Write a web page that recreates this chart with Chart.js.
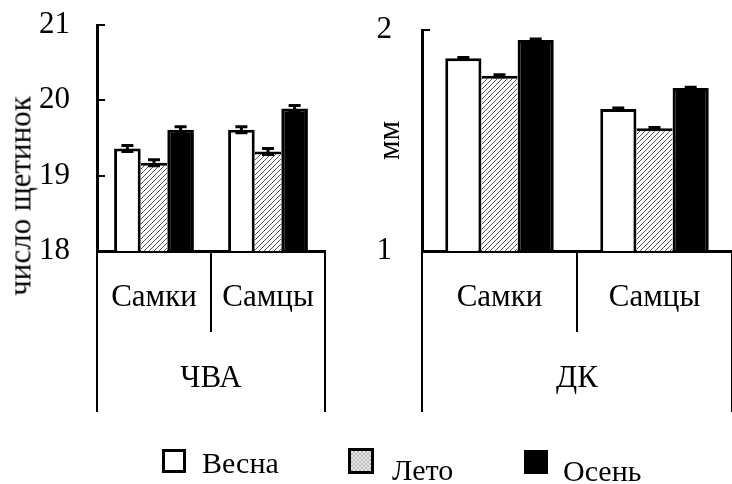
<!DOCTYPE html>
<html lang="ru">
<head>
<meta charset="utf-8">
<title>ЧВА и ДК</title>
<script src="https://cdn.jsdelivr.net/npm/chart.js@4.4.1/dist/chart.umd.min.js"></script>
<style>
  body { margin: 0; background: #fff; }
  #wrap { position: relative; width: 732px; height: 484px; overflow: hidden;
    font-family: "Liberation Serif", "Times New Roman", serif; color: #000; }
  canvas { position: absolute; top: 0; }
  #leftChart { left: 0; }
  #rightChart { left: 366px; }
  .y-title { position: absolute; font-size: 31px; line-height: 1.2; white-space: nowrap;
    transform: translate(-50%, -50%) rotate(-90deg); }
  .legend-box { position: absolute; box-sizing: border-box; border: 3px solid #000; }
  .legend-text { position: absolute; font-size: 30px; line-height: 1; white-space: nowrap; }
</style>
</head>
<body>
<div id="wrap">
  <canvas id="leftChart" width="366" height="484"></canvas>
  <canvas id="rightChart" width="366" height="484"></canvas>
  <div class="y-title" id="leftTitle" style="left:20px; top:196px;"></div>
  <div id="legend"></div>
</div>
<script>
// Categories and groups
const sexes = ["Самки", "Самцы"];
const seasons = ["Весна", "Лето", "Осень"];
const leftGroup = ["ЧВА"];
const rightGroup = ["ДК"];
const leftAxisTitle = "число щетинок";
const rightAxisTitle = "мм";

// ЧВА (left panel)
const chvaSpring = [19.36, 19.61];
const chvaSummer = [19.17, 19.32];
const chvaAutumn = [19.61, 19.89];
const chvaSpringErr = [0.04, 0.04];
const chvaSummerErr = [0.04, 0.04];
const chvaAutumnErr = [0.04, 0.04];
const chvaTicks = [18, 19, 20, 21];

// ДК (right panel)
const dkSpring = [1.872, 1.643];
const dkSummer = [1.793, 1.555];
const dkAutumn = [1.955, 1.737];
const dkSpringErr = [0.004, 0.004];
const dkSummerErr = [0.004, 0.004];
const dkAutumnErr = [0.004, 0.004];
const dkTicks = [1, 2];

Chart.defaults.font.family = "'Liberation Serif', 'Times New Roman', serif";
Chart.defaults.color = "#000";

// Hatch pattern for summer bars
function makeHatch() {
  const c = document.createElement("canvas");
  c.width = 5;
  c.height = 5;
  const g = c.getContext("2d");
  g.fillStyle = "#fff";
  g.fillRect(0, 0, 5, 5);
  g.strokeStyle = "#555";
  g.lineWidth = 1;
  g.beginPath();
  g.moveTo(0, 5);
  g.lineTo(5, 0);
  g.moveTo(-1, 1);
  g.lineTo(1, -1);
  g.moveTo(4, 6);
  g.lineTo(6, 4);
  g.stroke();
  return g.createPattern(c, "repeat");
}
const hatch = makeHatch();

// Error bars drawn from each dataset's errorBars array
const errorBarPlugin = {
  id: "errorBars",
  afterDatasetsDraw(chart) {
    const ctx = chart.ctx;
    const yScale = chart.scales.y;
    ctx.save();
    ctx.strokeStyle = "#000";
    ctx.lineWidth = 3;
    chart.data.datasets.forEach((ds, di) => {
      const meta = chart.getDatasetMeta(di);
      meta.data.forEach((bar, i) => {
        const v = ds.data[i];
        const e = ds.errorBars[i];
        const yTop = yScale.getPixelForValue(v + e);
        const yBot = yScale.getPixelForValue(v - e);
        const half = 6;
        ctx.beginPath();
        ctx.moveTo(bar.x, yTop);
        ctx.lineTo(bar.x, yBot);
        ctx.moveTo(bar.x - half, yTop);
        ctx.lineTo(bar.x + half, yTop);
        ctx.moveTo(bar.x - half, yBot);
        ctx.lineTo(bar.x + half, yBot);
        ctx.stroke();
      });
    });
    ctx.restore();
  },
};

function makeDatasets(spring, summer, autumn, springErr, summerErr, autumnErr) {
  return [
    {
      label: seasons[0],
      data: spring,
      errorBars: springErr,
      backgroundColor: "#fff",
      borderColor: "#000",
      borderWidth: 3,
    },
    {
      label: seasons[1],
      data: summer,
      errorBars: summerErr,
      backgroundColor: hatch,
      borderColor: "#000",
      borderWidth: { top: 3, left: 0, right: 0, bottom: 0 },
    },
    {
      label: seasons[2],
      data: autumn,
      errorBars: autumnErr,
      backgroundColor: "#000",
      borderColor: "#000",
      borderWidth: 3,
    },
  ];
}

function makeOptions(cfg) {
  return {
    responsive: false,
    animation: false,
    devicePixelRatio: 1,
    layout: { padding: cfg.padding },
    datasets: { bar: { categoryPercentage: 0.7, barPercentage: 1.0 } },
    plugins: { legend: { display: false }, tooltip: { enabled: false } },
    scales: {
      x: {
        type: "category",
        position: "bottom",
        weight: 0,
        offset: true,
        grid: {
          display: true,
          offset: true,
          drawOnChartArea: false,
          drawTicks: true,
          tickLength: 81,
          color: "#000",
          lineWidth: 2,
        },
        border: { display: true, color: "#000", width: 3 },
        ticks: { font: { size: 31 }, padding: -53, maxRotation: 0, autoSkip: false },
        afterFit: (s) => { s.height = 81; },
      },
      x2: {
        type: "category",
        labels: cfg.group,
        position: "bottom",
        weight: 1,
        offset: true,
        grid: {
          display: true,
          offset: true,
          drawOnChartArea: false,
          drawTicks: true,
          tickLength: 80,
          color: "#000",
          lineWidth: 2,
        },
        border: { display: false },
        ticks: { font: { size: 31 }, padding: -52, maxRotation: 0 },
        afterFit: (s) => { s.height = 80; },
      },
      y: {
        min: cfg.ticks[0],
        max: cfg.ticks[cfg.ticks.length - 1],
        afterBuildTicks: (s) => { s.ticks = cfg.ticks.map((v) => ({ value: v })); },
        grid: {
          display: true,
          drawOnChartArea: false,
          drawTicks: true,
          tickLength: -8,
          color: "#000",
          lineWidth: 2,
        },
        border: { display: true, color: "#000", width: 3 },
        ticks: { font: { size: 31 }, padding: cfg.tickPadding },
        title: cfg.title
          ? { display: true, text: cfg.title, font: { size: 31 }, padding: { top: 6, bottom: 0 } }
          : { display: false },
        afterFit: (s) => {
          s.width = cfg.yWidth;
          // keep the label padding from pushing the plot area down
          s.paddingTop = 0;
          s.paddingBottom = 0;
        },
      },
    },
  };
}

// Left chart: ЧВА
new Chart(document.getElementById("leftChart"), {
  type: "bar",
  data: {
    labels: sexes,
    datasets: makeDatasets(chvaSpring, chvaSummer, chvaAutumn, chvaSpringErr, chvaSummerErr, chvaAutumnErr),
  },
  options: makeOptions({
    padding: { top: 25, left: 0, right: 41, bottom: 72 },
    group: leftGroup,
    ticks: chvaTicks,
    tickPadding: 35,
    yWidth: 97,
    title: null,
  }),
  plugins: [errorBarPlugin],
});

// Right chart: ДК
new Chart(document.getElementById("rightChart"), {
  type: "bar",
  data: {
    labels: sexes,
    datasets: makeDatasets(dkSpring, dkSummer, dkAutumn, dkSpringErr, dkSummerErr, dkAutumnErr),
  },
  options: makeOptions({
    padding: { top: 30, left: 0, right: 0, bottom: 72 },
    group: rightGroup,
    ticks: dkTicks,
    tickPadding: 38,
    yWidth: 56,
    title: rightAxisTitle,
  }),
  plugins: [errorBarPlugin],
});

document.getElementById("leftTitle").textContent = leftAxisTitle;

// Legend (HTML)
const legendItems = [
  { box: { left: 162, top: 449, size: 24, bg: "#fff" }, text: { left: 202, top: 448 } },
  { box: { left: 348, top: 448, size: 26, bg: "repeating-conic-gradient(#bdbdbd 0 25%, #e6e6e6 0 50%) 0 0 / 4px 4px" }, text: { left: 392, top: 455 } },
  { box: { left: 524, top: 450, size: 24, bg: "#000" }, text: { left: 563, top: 456 } },
];
const legend = document.getElementById("legend");
legendItems.forEach((item, i) => {
  const box = document.createElement("div");
  box.className = "legend-box";
  box.style.left = item.box.left + "px";
  box.style.top = item.box.top + "px";
  box.style.width = item.box.size + "px";
  box.style.height = item.box.size + "px";
  box.style.background = item.box.bg;
  legend.appendChild(box);
  const txt = document.createElement("div");
  txt.className = "legend-text";
  txt.style.left = item.text.left + "px";
  txt.style.top = item.text.top + "px";
  txt.textContent = seasons[i];
  legend.appendChild(txt);
});
</script>
</body>
</html>
